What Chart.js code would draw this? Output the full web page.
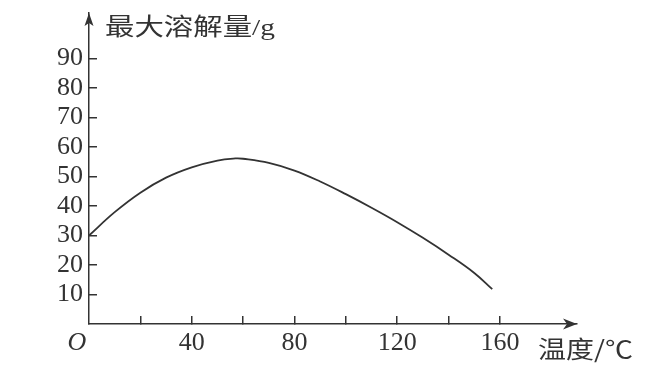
<!DOCTYPE html>
<html><head><meta charset="utf-8">
<script src="https://cdn.jsdelivr.net/npm/chart.js@4"></script>
<style>html,body{margin:0;padding:0;background:#fff;} #wrap{width:657px;height:374px;}</style>
</head><body><div id="wrap"><canvas id="c" width="657" height="374"></canvas></div>
<script>
const temperatures = [0, 10, 20, 30, 40, 50, 57, 60, 70, 80, 90, 100, 110, 120, 130, 140, 150, 157];
const solubility   = [30, 37.9, 44.5, 49.6, 53.1, 55.4, 56.1, 56.0, 54.6, 52.0, 48.3, 44.0, 39.4, 34.5, 29.2, 23.5, 17.3, 11.8];
const xTickValues = [20, 40, 60, 80, 100, 120, 140, 160];
const xLabeledValues = [40, 80, 120, 160];
const yTickValues = [10, 20, 30, 40, 50, 60, 70, 80, 90];
const xTitle = '温度/℃';
const yTitle = '最大溶解量/g';
const originLabel = 'O';

const INK = '#333';
const SERIF = '"Liberation Serif", "Times New Roman", serif';
const CJK = '"Liberation Serif", "Noto Sans CJK SC", serif';
const CJK2 = '"Noto Sans CJK SC", "Liberation Serif", serif';

const decor = {
  id: 'decor',
  afterDraw(chart) {
    const ctx = chart.ctx;
    const ca = chart.chartArea;
    const xs = chart.scales.x, ys = chart.scales.y;
    const ox = xs.getPixelForValue(0), oy = ys.getPixelForValue(0);
    ctx.save();
    ctx.fillStyle = INK;
    ctx.beginPath();
    ctx.moveTo(ox, ca.top);
    ctx.lineTo(ox - 4.5, ca.top + 13);
    ctx.lineTo(ox, ca.top + 10);
    ctx.lineTo(ox + 4.5, ca.top + 13);
    ctx.closePath();
    ctx.fill();
    ctx.beginPath();
    ctx.moveTo(ca.right, oy);
    ctx.lineTo(ca.right - 14, oy - 5.5);
    ctx.lineTo(ca.right - 10, oy);
    ctx.lineTo(ca.right - 14, oy + 5.5);
    ctx.closePath();
    ctx.fill();
    ctx.textBaseline = 'middle';
    ctx.textAlign = 'left';
    ctx.font = '24px ' + CJK;
    let w = ctx.measureText(yTitle).width;
    ctx.save();
    ctx.translate(ox + 16, 29);
    ctx.scale(170 / w, 1);
    ctx.fillText(yTitle, 0, 0);
    ctx.restore();
    ctx.font = '24px ' + CJK2;
    w = ctx.measureText(xTitle).width;
    ctx.save();
    ctx.translate(ca.right - 39, oy + 25);
    ctx.scale(95 / w, 1);
    ctx.fillText(xTitle, 0, 0);
    ctx.restore();
    ctx.textAlign = 'center';
    ctx.font = 'italic 26px ' + SERIF;
    ctx.fillText(originLabel, ox - 12, oy + 19);
    ctx.restore();
  }
};

new Chart(document.getElementById('c'), {
  type: 'line',
  data: {
    datasets: [{
      data: temperatures.map((t, i) => ({ x: t, y: solubility[i] })),
      borderColor: INK,
      borderWidth: 1.8,
      pointRadius: 0,
      fill: false,
      tension: 0.4
    }]
  },
  options: {
    responsive: false,
    animation: false,
    devicePixelRatio: 1,
    layout: { padding: { left: 0, top: 13, right: 80, bottom: 0 } },
    plugins: { legend: { display: false }, tooltip: { enabled: false } },
    scales: {
      x: {
        type: 'linear', position: 'bottom', min: 0, max: 190,
        afterFit: s => { s.height = 50; s.paddingLeft = 0; s.paddingRight = 0; },
        afterBuildTicks: s => { s.ticks = xTickValues.map(v => ({ value: v })); },
        ticks: {
          autoSkip: false, maxRotation: 0, padding: 12, color: INK,
          font: { family: SERIF, size: 26 },
          callback: v => xLabeledValues.includes(v) ? String(v) : ''
        },
        grid: { drawOnChartArea: false, drawTicks: true, tickLength: -8, color: INK, lineWidth: 1.5 },
        border: { display: true, color: INK, width: 1.5 }
      },
      y: {
        type: 'linear', position: 'left', min: 0, max: 105.4,
        afterFit: s => { s.width = 89; s.paddingTop = 0; s.paddingBottom = 0; },
        afterBuildTicks: s => { s.ticks = yTickValues.map(v => ({ value: v })); },
        ticks: {
          autoSkip: false, padding: 14, color: INK,
          font: { family: SERIF, size: 26 }
        },
        grid: { drawOnChartArea: false, drawTicks: true, tickLength: -8, color: INK, lineWidth: 1.5 },
        border: { display: true, color: INK, width: 1.5 }
      }
    }
  },
  plugins: [decor]
});
</script>
</body></html>
